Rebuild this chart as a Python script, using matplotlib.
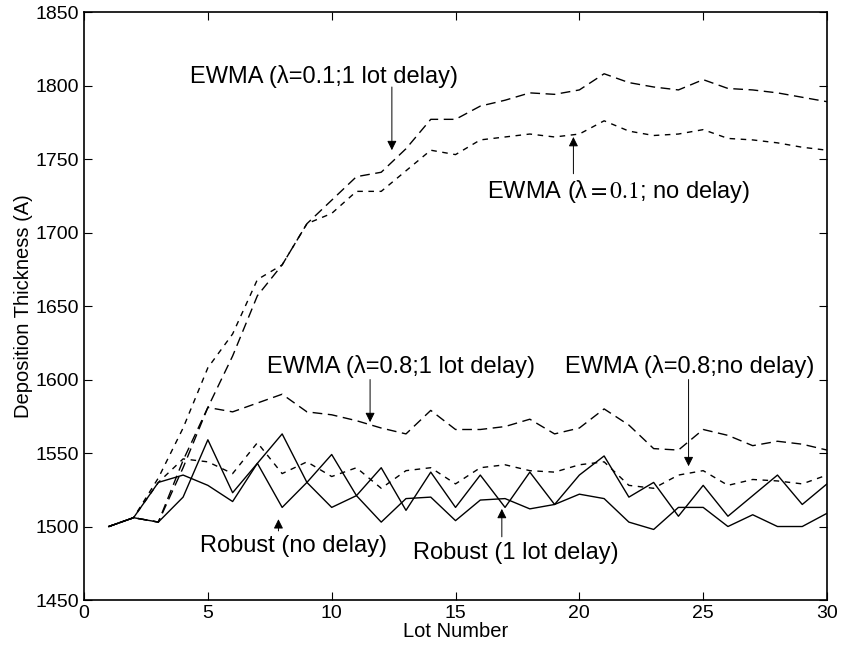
import matplotlib
matplotlib.use('Agg')
import matplotlib.pyplot as plt
import numpy as np

plt.rcParams['font.family'] = ['Liberation Sans', 'DejaVu Sans']
plt.rcParams['mathtext.fontset'] = 'stix'

lots = np.arange(1, 31)

# EWMA lambda=0.1
ewma01_delay = [1500, 1506, 1503, 1540, 1581, 1616, 1657, 1678, 1706, 1722,
                1738, 1741, 1757, 1777, 1777, 1786, 1790, 1795, 1794, 1797,
                1808, 1802, 1799, 1797, 1804, 1798, 1797, 1795, 1792, 1789]
ewma01_nodelay = [1500, 1506, 1533, 1567, 1608, 1631, 1668, 1678, 1706, 1713,
                  1728, 1728, 1742, 1756, 1753, 1763, 1765, 1767, 1765, 1767,
                  1776, 1769, 1766, 1767, 1770, 1764, 1763, 1761, 1758, 1756]
# EWMA lambda=0.8
ewma08_delay = [1500, 1506, 1503, 1545, 1581, 1578, 1584, 1590, 1578, 1576,
                1572, 1567, 1563, 1579, 1566, 1566, 1568, 1573, 1563, 1567,
                1580, 1569, 1553, 1552, 1566, 1562, 1555, 1558, 1556, 1552]
ewma08_nodelay = [1500, 1506, 1530, 1546, 1544, 1536, 1557, 1536, 1544, 1534,
                  1540, 1526, 1538, 1540, 1529, 1540, 1542, 1538, 1537, 1542,
                  1544, 1528, 1526, 1535, 1538, 1528, 1532, 1531, 1529, 1535]
# Robust controllers
robust_nodelay = [1500, 1506, 1530, 1535, 1528, 1517, 1543, 1513, 1530, 1513,
                  1521, 1503, 1519, 1520, 1504, 1518, 1519, 1512, 1515, 1522,
                  1519, 1503, 1498, 1513, 1513, 1500, 1508, 1500, 1500, 1509]
robust_delay = [1500, 1506, 1503, 1520, 1559, 1523, 1543, 1563, 1530, 1549,
                1521, 1540, 1511, 1537, 1513, 1535, 1513, 1537, 1515, 1535,
                1548, 1520, 1530, 1507, 1528, 1507, 1521, 1535, 1515, 1529]

fig = plt.figure(figsize=(8.42, 6.5), dpi=100)
ax = fig.add_axes([0.0998, 0.0769, 0.8824, 0.9046])

ax.plot(lots, ewma01_delay, color='k', lw=1.0, linestyle=(0, (7, 4)))
ax.plot(lots, ewma01_nodelay, color='k', lw=1.0, linestyle=(0, (4, 4)))
ax.plot(lots, ewma08_delay, color='k', lw=1.0, linestyle=(0, (7, 4)))
ax.plot(lots, ewma08_nodelay, color='k', lw=1.0, linestyle=(0, (4, 4)))
ax.plot(lots, robust_nodelay, color='k', lw=1.0)
ax.plot(lots, robust_delay, color='k', lw=1.0)

ax.set_xlim(0, 30)
ax.set_ylim(1450, 1850)
ax.set_xticks([0, 5, 10, 15, 20, 25, 30])
ax.set_yticks(np.arange(1450, 1851, 50))
ax.tick_params(direction='in', top=True, right=True, labelsize=14, length=6)
ax.set_xlabel('Lot Number', fontsize=14.5, labelpad=0)
ax.set_ylabel('Deposition Thickness (A)', fontsize=14.5, labelpad=2)
for s in ax.spines.values():
    s.set_linewidth(1.2)

arrow = dict(arrowstyle='-|>', color='k', lw=0.7, mutation_scale=14,
             shrinkA=0, shrinkB=0)
fs = 17

ax.text(4.28, 1806, 'EWMA (λ=0.1;1 lot delay)', fontsize=fs, ha='left', va='center')
ax.annotate('', xy=(12.43, 1756), xytext=(12.43, 1799), arrowprops=arrow)

ax.text(16.26, 1728, 'EWMA (λ$=0.1$; no delay)', fontsize=fs, ha='left', va='center')
ax.annotate('', xy=(19.76, 1765), xytext=(19.76, 1740), arrowprops=arrow)

ax.text(7.38, 1609, 'EWMA (λ=0.8;1 lot delay)', fontsize=fs, ha='left', va='center')
ax.annotate('', xy=(11.55, 1571), xytext=(11.55, 1600), arrowprops=arrow)

ax.text(19.43, 1609, 'EWMA (λ=0.8;no delay)', fontsize=fs, ha='left', va='center')
ax.annotate('', xy=(24.41, 1541), xytext=(24.41, 1600), arrowprops=arrow)

ax.text(4.68, 1487, 'Robust (no delay)', fontsize=fs, ha='left', va='center')
ax.annotate('', xy=(7.85, 1505), xytext=(7.85, 1497), arrowprops=arrow)

ax.text(13.3, 1482, 'Robust (1 lot delay)', fontsize=fs, ha='left', va='center')
ax.annotate('', xy=(16.87, 1512), xytext=(16.87, 1493), arrowprops=arrow)

fig.savefig('out.png', dpi=100)
